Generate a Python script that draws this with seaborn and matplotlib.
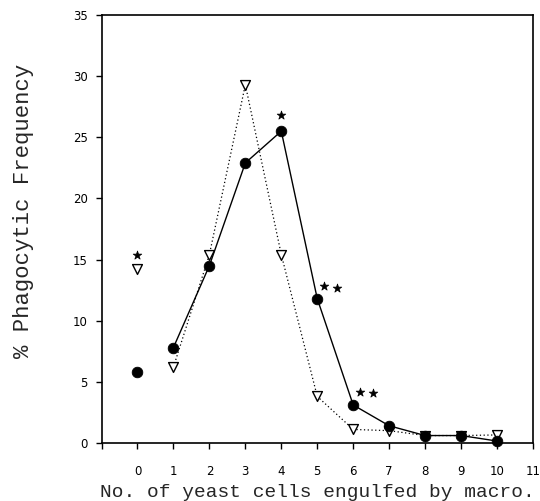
import numpy as np
import pandas as pd
import matplotlib
matplotlib.use("Agg")
import matplotlib.pyplot as plt
import seaborn as sns

# yeast cells engulfed per macrophage
cells = [0, 1, 2, 3, 4, 5, 6, 7, 8, 9, 10]
# % phagocytic frequency, filled circles (solid line)
freq_circle = [5.8, 7.8, 14.5, 22.9, 25.5, 11.8, 3.1, 1.4, 0.6, 0.6, 0.15]
# % phagocytic frequency, open triangles (dotted line)
freq_tri = [14.2, 6.2, 15.4, 29.3, 15.4, 3.8, 1.1, 1.0, 0.6, 0.6, 0.65]
# significance stars
star_x = [0, 4, 5.2, 5.55, 6.2, 6.55]
star_y = [15.4, 26.8, 12.8, 12.7, 4.15, 4.1]

xticks = list(range(-1, 12))
xticklabels = [""] + [str(i) for i in range(0, 12)]
yticks = [0, 5, 10, 15, 20, 25, 30, 35]

df = pd.DataFrame({"cells": cells, "circle": freq_circle, "tri": freq_tri})
line_df = df[df["cells"] >= 1]
stars = pd.DataFrame({"x": star_x, "y": star_y})

sns.set_style("ticks")
fig = plt.figure(figsize=(5.4, 5.01), dpi=100)
ax = fig.add_axes([0.188, 0.116, 0.799, 0.854])

# lines (point 0 is not joined)
sns.lineplot(data=line_df, x="cells", y="tri", ax=ax, color="black",
             linestyle=(0, (1, 2)), linewidth=0.9, estimator=None)
sns.lineplot(data=line_df, x="cells", y="circle", ax=ax, color="black",
             linewidth=1.0, estimator=None)

# markers
sns.scatterplot(data=df, x="cells", y="tri", ax=ax, marker="v", s=50,
                facecolor="white", edgecolor="black", linewidth=1.0,
                zorder=3, clip_on=False)
sns.scatterplot(data=df, x="cells", y="circle", ax=ax, marker="o", s=58,
                color="black", edgecolor="black", zorder=4, clip_on=False)
sns.scatterplot(data=stars, x="x", y="y", ax=ax, marker="*", s=42,
                color="black", edgecolor="black", zorder=4)

ax.set_xlim(-1, 11)
ax.set_ylim(0, 35)
ax.set_xticks(xticks)
ax.set_xticklabels(xticklabels)
ax.set_yticks(yticks)
ax.tick_params(axis="both", direction="out", length=4, width=1,
               labelsize=8.5, colors="black")
ax.tick_params(axis="x", pad=12)
ax.tick_params(axis="y", pad=6)
for s in ax.spines.values():
    s.set_linewidth(1.2)
    s.set_color("black")

ax.set_xlabel("No. of yeast cells engulfed by macro.",
              fontfamily="Liberation Mono", fontsize=14, labelpad=4)
ax.set_ylabel("% Phagocytic Frequency",
              fontfamily="Liberation Mono", fontsize=16)
ax.yaxis.set_label_coords(-0.156, 0.542)

fig.savefig("out.png", dpi=100)
